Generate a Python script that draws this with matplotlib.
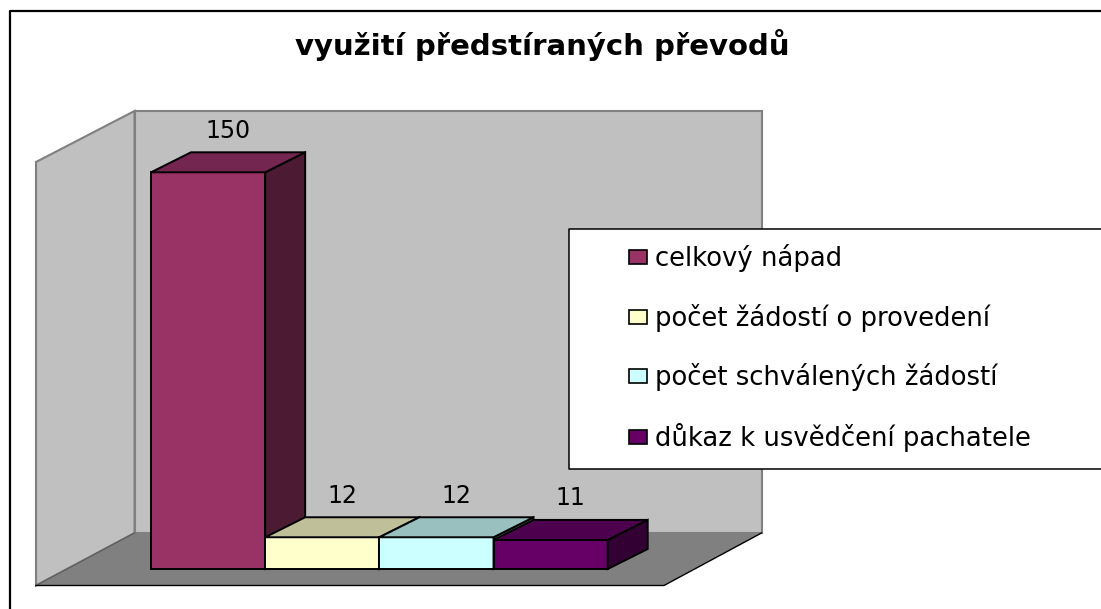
# -*- coding: utf-8 -*-
# 3D-look column chart, drawn with flat polygons on top of a pixel-sized background axes
import matplotlib

matplotlib.use("Agg")
import matplotlib.pyplot as plt
from matplotlib.patches import Patch, Polygon, Rectangle

plt.rcParams["font.family"] = ["DejaVu Sans"]

title = "využití předstíraných převodů"
categories = [
    "celkový nápad",
    "počet žádostí o provedení",
    "počet schválených žádostí",
    "důkaz k usvědčení pachatele",
]
values = [150, 12, 12, 11]
front_colors = ["#993366", "#FFFFCC", "#CCFFFF", "#660066"]
top_colors = ["#732650", "#BFBF99", "#99BFBF", "#4D004D"]
side_colors = ["#4D1A33", "#808066", "#668080", "#330033"]

W, H = 1101, 609
wall_color = "#C0C0C0"
floor_color = "#808080"

fig = plt.figure(figsize=(W / 100, H / 100), dpi=100, facecolor="white")

# background in pixel coordinates: walls, floor, frame
bg = fig.add_axes([0, 0, 1, 1])
bg.set_xlim(0, W)
bg.set_ylim(H, 0)
bg.axis("off")

bg.add_patch(Polygon([(134.5, 111), (761.5, 111), (761.5, 533), (134.5, 533)],
                     fc=wall_color, ec=floor_color, lw=1.5))
bg.add_patch(Polygon([(36, 162), (134.5, 111), (134.5, 533), (36, 585.5)],
                     fc=wall_color, ec=floor_color, lw=1.5))
bg.add_patch(Polygon([(36, 585.5), (134.5, 533), (761.5, 533), (664, 585.5)],
                     fc=floor_color, ec="none"))
bg.plot([36, 134.5], [585.5, 533], color="#606060", lw=1)
bg.plot([36, 664, 761.5], [585.5, 585.5, 533], color="black", lw=1)
bg.plot([9.5, 9.5, W], [H, 10.5, 10.5], color="black", lw=1.6, solid_capstyle="butt")

bg.text(542, 55, title, fontsize=21, fontweight="bold", ha="center", va="baseline")

# plot area: category index / value, positioned over the floor
x0, x1 = 151, 607.7
y0, y1 = 569, 172.3
ax = fig.add_axes([x0 / W, 1 - y0 / H, (x1 - x0) / W, (y0 - y1) / H])
ax.set_xlim(0, len(values))
ax.set_ylim(0, max(values))
ax.axis("off")

dx = 40 / ((x1 - x0) / len(values))
dy = 20 / ((y0 - y1) / max(values))

for i, v in enumerate(values):
    z = 3 + i
    ax.add_patch(Rectangle((i, 0), 1, v, fc=front_colors[i], ec="black", lw=1.4,
                           zorder=z, clip_on=False, joinstyle="miter"))
    ax.add_patch(Polygon([(i + 1, 0), (i + 1 + dx, dy), (i + 1 + dx, v + dy), (i + 1, v)],
                         fc=side_colors[i], ec="black", lw=1.4, zorder=z, clip_on=False))
    ax.add_patch(Polygon([(i, v), (i + dx, v + dy), (i + 1 + dx, v + dy), (i + 1, v)],
                         fc=top_colors[i], ec="black", lw=1.4, zorder=z, clip_on=False))
    ax.annotate(str(v), (i + 0.5 + dx / 2, v + dy), xytext=(0, 10.5),
                textcoords="offset points", ha="center", va="baseline",
                fontsize=17, zorder=10, annotation_clip=False)

# legend box, open on the right edge of the picture
bg.add_patch(Rectangle((568.5, 229), W - 568.5, 239.5, fc="white", ec="none", zorder=20))
bg.plot([W, 568.5, 568.5, W], [229, 229, 468.5, 468.5], color="black", lw=1.1, zorder=21)

handles = [Patch(fc=c, ec="black", lw=1.2) for c in front_colors]
fig.legend(handles, categories, loc="upper left", bbox_to_anchor=(619 / W, 1 - 234 / H),
           frameon=False, fontsize=18.6, handlelength=0.7, handleheight=0.46,
           handletextpad=0.31, labelspacing=1.22, borderaxespad=0, borderpad=0.4)

fig.savefig("out.png", dpi=100)
